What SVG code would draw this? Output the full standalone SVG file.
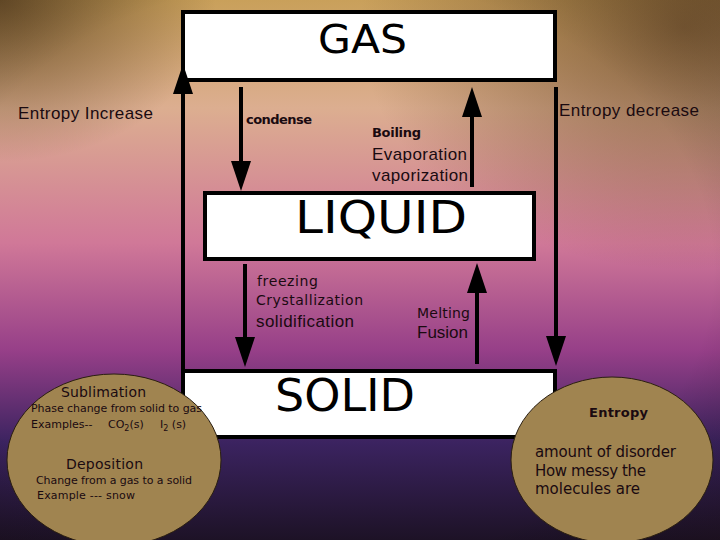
<svg xmlns="http://www.w3.org/2000/svg" width="720" height="540" viewBox="0 0 720 540">
<defs>
<linearGradient id="bg" x1="0" y1="0" x2="0" y2="1">
<stop offset="0" stop-color="#c9a05a"/>
<stop offset="0.2" stop-color="#dcae90"/>
<stop offset="0.45" stop-color="#d07898"/>
<stop offset="0.65" stop-color="#963f88"/>
<stop offset="0.82" stop-color="#3b2360"/>
<stop offset="1" stop-color="#1d1226"/>
</linearGradient>
<radialGradient id="vig" cx="0.45" cy="0.5" r="0.9">
<stop offset="0.6" stop-color="#000" stop-opacity="0"/>
<stop offset="1" stop-color="#2a1410" stop-opacity="0.45"/>
</radialGradient>
<radialGradient id="tr" cx="0.95" cy="0.05" r="0.45">
<stop offset="0" stop-color="#6a4a28" stop-opacity="0.75"/>
<stop offset="1" stop-color="#6a4a28" stop-opacity="0"/>
</radialGradient>
<radialGradient id="tl" cx="0" cy="0" r="0.3">
<stop offset="0" stop-color="#5a4020" stop-opacity="0.8"/>
<stop offset="1" stop-color="#5a4020" stop-opacity="0"/>
</radialGradient>
<marker id="ah" viewBox="0 0 30 20" refX="22" refY="10" markerWidth="30" markerHeight="20" markerUnits="userSpaceOnUse" orient="auto">
<polygon points="0,0 30,10 0,20" fill="#000"/>
</marker>
<style>
.box{fill:#fff;stroke:#000;stroke-width:4}
.big{font-family:"DejaVu Sans",sans-serif;fill:#000}
.ar{font-family:"Liberation Sans",Arial,sans-serif;fill:#1a0a10}
.cm{font-family:"DejaVu Sans",sans-serif;fill:#1a0a10}
.ln{stroke:#000;stroke-width:4;fill:none}
.ell{fill:#a08450;stroke:#2a1e10;stroke-width:1}
</style>
</defs>
<rect width="720" height="540" fill="url(#bg)"/>
<rect width="720" height="540" fill="url(#tr)"/>
<rect width="720" height="540" fill="url(#tl)"/>
<rect width="720" height="540" fill="url(#vig)"/>

<g id="gas">
<rect class="box" x="183" y="12" width="372" height="68"/>
<text class="big" x="318" y="53" font-size="39" textLength="89" lengthAdjust="spacingAndGlyphs">GAS</text>
</g>
<g id="liquid">
<rect class="box" x="205" y="193" width="329" height="66"/>
<text class="big" x="295" y="233" font-size="44" textLength="172" lengthAdjust="spacingAndGlyphs">LIQUID</text>
</g>
<g id="solid">
<rect class="box" x="183" y="371" width="372" height="66"/>
<text class="big" x="275" y="411" font-size="45" textLength="140" lengthAdjust="spacingAndGlyphs">SOLID</text>
</g>

<g id="connectors">
<line class="ln" x1="183" y1="371" x2="183" y2="72" marker-end="url(#ah)"/>
<line class="ln" x1="241" y1="87" x2="241" y2="183" marker-end="url(#ah)"/>
<line class="ln" x1="472" y1="187" x2="472" y2="95" marker-end="url(#ah)"/>
<line class="ln" x1="556" y1="87" x2="556" y2="358" marker-end="url(#ah)"/>
<line class="ln" x1="245" y1="264" x2="245" y2="359" marker-end="url(#ah)"/>
<line class="ln" x1="477" y1="364" x2="477" y2="271" marker-end="url(#ah)"/>
</g>

<g id="labels">
<text class="ar" x="18" y="119" font-size="17" textLength="135">Entropy Increase</text>
<text class="ar" x="559" y="116" font-size="17" textLength="140">Entropy decrease</text>
<text class="cm" x="246" y="124" font-size="13" font-weight="bold" textLength="66">condense</text>
<text class="cm" x="372" y="137" font-size="13" font-weight="bold" textLength="49">Boiling</text>
<text class="ar" x="372" y="160" font-size="17" textLength="95">Evaporation</text>
<text class="ar" x="372" y="181" font-size="17" textLength="96">vaporization</text>
<text class="cm" x="257" y="286" font-size="14" textLength="61">freezing</text>
<text class="cm" x="256" y="305" font-size="14" textLength="107">Crystallization</text>
<text class="ar" x="256" y="327" font-size="17" textLength="98">solidification</text>
<text class="cm" x="417" y="318" font-size="14" textLength="53">Melting</text>
<text class="ar" x="417" y="338" font-size="17" textLength="51">Fusion</text>
</g>

<g id="sublimation">
<ellipse class="ell" cx="114" cy="460" rx="107" ry="86"/>
<text class="cm" x="61" y="397" font-size="14" textLength="85">Sublimation</text>
<text class="cm" x="31" y="412" font-size="11" textLength="171">Phase change from solid to gas</text>
<text class="cm" x="31" y="428" font-size="11">Examples--<tspan x="108">CO</tspan><tspan font-size="8" dy="3">2</tspan><tspan dy="-3">(s)</tspan><tspan x="160">I</tspan><tspan font-size="8" dy="3">2</tspan><tspan dy="-3"> (s)</tspan></text>
<text class="cm" x="66" y="469" font-size="14" textLength="77">Deposition</text>
<text class="cm" x="36" y="484" font-size="11" textLength="156">Change from a gas to a solid</text>
<text class="cm" x="37" y="499" font-size="11" textLength="98">Example --- snow</text>
</g>

<g id="entropy">
<ellipse class="ell" cx="612" cy="460" rx="101" ry="83"/>
<text class="cm" x="589" y="417" font-size="13" font-weight="bold" textLength="59">Entropy</text>
<text class="cm" x="535" y="457" font-size="15" textLength="141">amount of disorder</text>
<text class="cm" x="535" y="476" font-size="15" textLength="111">How messy the</text>
<text class="cm" x="535" y="494" font-size="15" textLength="105">molecules  are</text>
</g>
</svg>
